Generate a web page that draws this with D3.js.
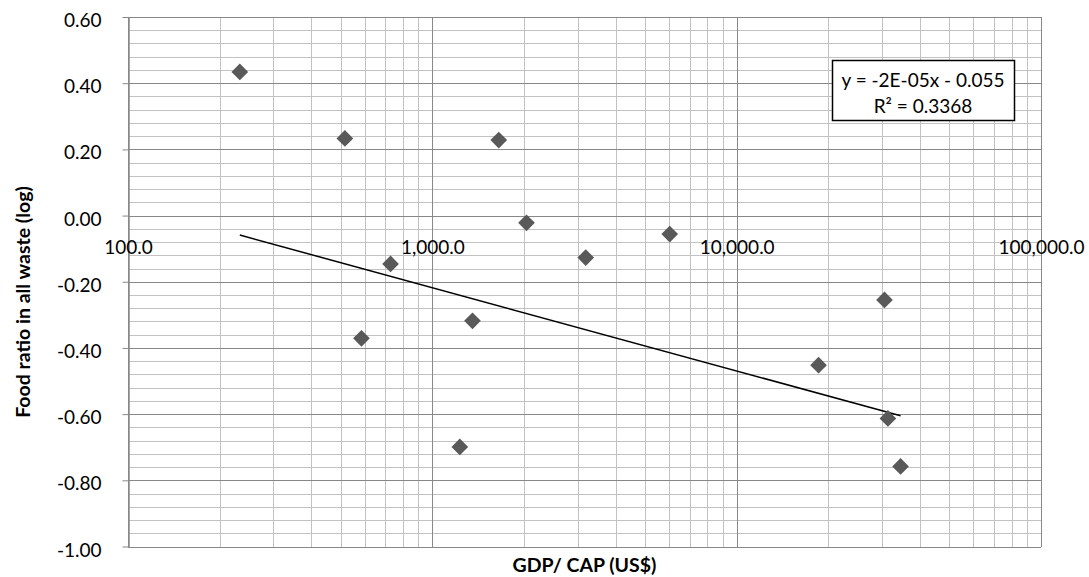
<!DOCTYPE html>
<meta charset="utf-8">
<script src="https://cdn.jsdelivr.net/npm/d3@7"></script>
<style type="text/css">
body { margin: 0; background: #fff; }
text { font-family: Lato, "Open Sans", sans-serif; fill: #000; }
.minor { stroke: #c2c2c2; stroke-width: 1; shape-rendering: crispEdges; }
.major { stroke: #888888; stroke-width: 1; shape-rendering: crispEdges; }
.dot { fill: #595959; }
.trend { fill: none; stroke: #000; stroke-width: 1.5; }
</style>
<body>
</body>
<script>
// GDP per capita (US$) and food ratio (log)
var gdpPerCap = [233, 516, 585, 729, 1231, 1355, 1653, 2039, 3192, 6026, 18580, 30600, 31400, 34560];
var foodRatio = [0.434, 0.233, -0.371, -0.146, -0.699, -0.318, 0.228, -0.022, -0.127, -0.056, -0.452, -0.255, -0.613, -0.758];

// linear trendline as drawn (end points)
var trendX = [233, 34560];
var trendY = [-0.059, -0.605];

var xTicks = [100, 1000, 10000, 100000];
var yTicks = [-1.0, -0.8, -0.6, -0.4, -0.2, 0.0, 0.2, 0.4, 0.6];
var eqLines = ["y = -2E-05x - 0.055", "R\u00b2 = 0.3368"];

var W = 1089, H = 577;
var plotL = 128, plotR = 1041, plotT = 17, plotB = 546.5;

var svg = d3.select("body").append("svg")
    .attr("width", W)
    .attr("height", H);

var xScale = d3.scaleLog()
    .domain([100, 100000])
    .range([plotL, plotR]);

var yScale = d3.scaleLinear()
    .domain([-1, 0.6])
    .range([plotB, plotT]);

// minor grid
var xMinor = [];
for (var d = 100; d < 100000; d *= 10) {
  for (var m = 2; m <= 9; m++) xMinor.push(d * m);
}
var yMinor = [];
for (var i = 0; i <= 40; i++) {
  if (i % 5 != 0) yMinor.push(-1 + i * 0.04);
}

function px(v) { return Math.round(v) + 0.5; }

var grid = svg.append("g");
grid.selectAll(".vminor").data(xMinor)
  .enter().append("line")
    .attr("class", "minor")
    .attr("x1", function(d) { return px(xScale(d)); })
    .attr("x2", function(d) { return px(xScale(d)); })
    .attr("y1", plotT).attr("y2", plotB);
grid.selectAll(".hminor").data(yMinor)
  .enter().append("line")
    .attr("class", "minor")
    .attr("y1", function(d) { return px(yScale(d)); })
    .attr("y2", function(d) { return px(yScale(d)); })
    .attr("x1", plotL).attr("x2", plotR);
grid.selectAll(".vmajor").data(xTicks)
  .enter().append("line")
    .attr("class", "major")
    .attr("x1", function(d) { return px(xScale(d)); })
    .attr("x2", function(d) { return px(xScale(d)); })
    .attr("y1", plotT).attr("y2", plotB);
grid.selectAll(".hmajor").data(yTicks)
  .enter().append("line")
    .attr("class", "major")
    .attr("y1", function(d) { return px(yScale(d)); })
    .attr("y2", function(d) { return px(yScale(d)); })
    .attr("x1", plotL).attr("x2", plotR);

// y axis
var yAxis = svg.append("g")
    .attr("transform", "translate(" + px(plotL) + ",0)")
    .call(d3.axisLeft(yScale)
      .tickValues(yTicks)
      .tickSize(6)
      .tickSizeOuter(0)
      .tickPadding(21)
      .tickFormat(function(d) { return d.toFixed(2); }));
yAxis.select(".domain").attr("stroke", "#888888").attr("stroke-width", 1.5);
yAxis.selectAll(".tick line").attr("stroke", "#888888");
yAxis.selectAll("text")
    .attr("font-size", "19px")
    .attr("dy", "0.5em");

// x axis labels sit below the zero line
var xAxis = svg.append("g")
    .attr("transform", "translate(0," + yScale(0) + ")")
    .call(d3.axisBottom(xScale)
      .tickValues(xTicks)
      .tickSize(0)
      .tickSizeOuter(0)
      .tickFormat(d3.format(",.1f")));
xAxis.select(".domain").remove();
xAxis.selectAll("text")
    .attr("font-size", "19px")
    .attr("dy", null)
    .attr("y", 38);

// trendline
var trend = trendX.map(function(x, i) { return {x: x, y: trendY[i]}; });
var line = d3.line()
    .x(function(d) { return xScale(d.x); })
    .y(function(d) { return yScale(d.y); });
svg.append("path")
    .datum(trend)
    .attr("class", "trend")
    .attr("d", line);

// points
var diamond = d3.symbol().type(d3.symbolSquare).size(139);
svg.selectAll(".dot")
    .data(gdpPerCap)
  .enter().append("path")
    .attr("class", "dot")
    .attr("d", diamond)
    .attr("transform", function(d, i) {
      return "translate(" + xScale(d) + "," + yScale(foodRatio[i]) + ") rotate(45)";
    });

// equation box
var box = svg.append("g");
box.append("rect")
    .attr("x", 832.5).attr("y", 60.5)
    .attr("width", 182).attr("height", 60)
    .attr("fill", "#fff")
    .attr("stroke", "#000")
    .attr("stroke-width", 1.5);
box.selectAll(".eq").data(eqLines)
  .enter().append("text")
    .attr("x", 923)
    .attr("y", function(d, i) { return 86.5 + i * 26; })
    .attr("text-anchor", "middle")
    .attr("font-size", "19px")
    .text(function(d) { return d; });

// axis titles
svg.append("text")
    .attr("x", (plotL + plotR) / 2)
    .attr("y", 572)
    .attr("text-anchor", "middle")
    .attr("font-size", "19.5px")
    .attr("font-weight", "bold")
    .text("GDP/ CAP (US$)");

svg.append("text")
    .attr("transform", "translate(30,302) rotate(-90)")
    .attr("text-anchor", "middle")
    .attr("font-size", "19.5px")
    .attr("font-weight", "bold")
    .text("Food ratio in all  waste (log)");
</script>
